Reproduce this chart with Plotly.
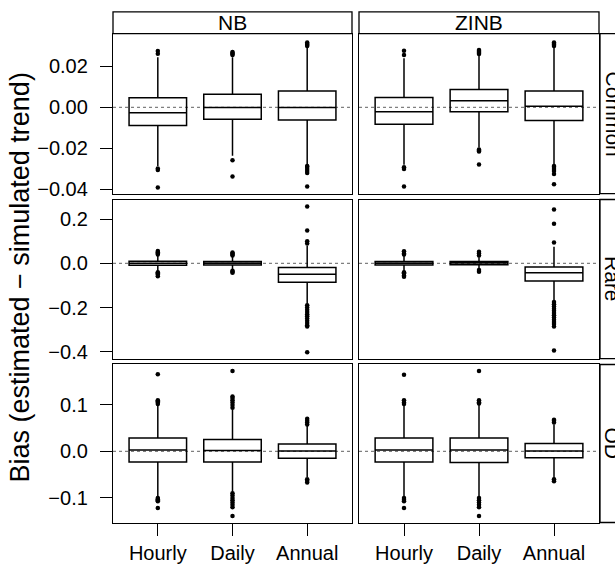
import plotly.graph_objects as go
from plotly.subplots import make_subplots

# Facets and categories
models = ["NB", "ZINB"]
groups = ["Common", "Rare", "OD"]
scales = ["Hourly", "Daily", "Annual"]

# Box statistics per group: one row per model (NB, ZINB), one value per scale
common_q1 = [[-0.0088, -0.0058, -0.0061], [-0.0082, -0.0021, -0.0064]]
common_med = [[-0.0026, 0.0000, 0.0000], [-0.0021, 0.0032, 0.0006]]
common_q3 = [[0.0047, 0.0064, 0.0080], [0.0048, 0.0087, 0.0080]]
common_lo = [[-0.0285, -0.0236, -0.0280], [-0.0280, -0.0195, -0.0278]]
common_hi = [[0.0245, 0.0245, 0.0290], [0.0240, 0.0255, 0.0290]]

rare_q1 = [[-0.009, -0.008, -0.086], [-0.008, -0.006, -0.080]]
rare_med = [[0.000, 0.001, -0.049], [0.000, 0.002, -0.043]]
rare_q3 = [[0.009, 0.008, -0.019], [0.008, 0.008, -0.016]]
rare_lo = [[-0.035, -0.030, -0.183], [-0.035, -0.025, -0.170]]
rare_hi = [[0.035, 0.030, 0.080], [0.035, 0.028, 0.075]]

od_q1 = [[-0.023, -0.023, -0.015], [-0.023, -0.024, -0.0135]]
od_med = [[0.003, 0.002, 0.001], [0.003, 0.003, 0.001]]
od_q3 = [[0.029, 0.0255, 0.016], [0.029, 0.029, 0.017]]
od_lo = [[-0.098, -0.087, -0.055], [-0.098, -0.098, -0.058]]
od_hi = [[0.100, 0.090, 0.055], [0.100, 0.100, 0.058]]

# Outlying values per group / model / scale
common_out = [
    [[0.0262, 0.0275, -0.0298, -0.0305, -0.0390],
     [0.0255, 0.0260, 0.0265, 0.0270, -0.0257, -0.0337],
     [0.0300, 0.0305, 0.0310, 0.0317, -0.0285, -0.0290, -0.0300, -0.0310, -0.0320, -0.0386]],
    [[0.0255, 0.0276, -0.0292, -0.0300, -0.0386],
     [0.0260, 0.0265, 0.0270, 0.0275, 0.0280, -0.0205, -0.0210, -0.0215, -0.0278],
     [0.0300, 0.0305, 0.0310, 0.0317, -0.0285, -0.0290, -0.0300, -0.0310, -0.0325, -0.0374]],
]
rare_out = [
    [[0.040, 0.045, 0.050, 0.056, -0.040, -0.045, -0.050, -0.058],
     [0.035, 0.040, 0.045, 0.049, -0.033, -0.038, -0.043],
     [0.090, 0.100, 0.149, 0.257, -0.190, -0.200, -0.210, -0.220, -0.230, -0.240,
      -0.250, -0.260, -0.270, -0.280, -0.286, -0.403]],
    [[0.040, 0.045, 0.055, -0.040, -0.045, -0.055, -0.061],
     [0.035, 0.045, 0.052, -0.030, -0.038],
     [0.094, 0.179, 0.244, -0.175, -0.185, -0.195, -0.205, -0.215, -0.225, -0.235,
      -0.245, -0.255, -0.265, -0.275, -0.286, -0.395]],
]
od_out = [
    [[0.102, 0.105, 0.108, 0.110, 0.166, -0.100, -0.103, -0.105, -0.107, -0.122],
     [0.094, 0.100, 0.105, 0.110, 0.115, 0.118, 0.173,
      -0.090, -0.095, -0.100, -0.105, -0.110, -0.115, -0.120, -0.139],
     [0.058, 0.062, 0.066, 0.070, -0.060, -0.063, -0.067]],
    [[0.102, 0.105, 0.110, 0.165, -0.100, -0.104, -0.107, -0.122],
     [0.103, 0.106, 0.110, 0.173, -0.100, -0.105, -0.110, -0.115, -0.120, -0.139],
     [0.062, 0.066, 0.068, -0.060, -0.064]],
]

# Axis tick labels per group
common_ticks = [-0.04, -0.02, 0.00, 0.02]
rare_ticks = [-0.4, -0.2, 0.0, 0.2]
od_ticks = [-0.1, 0.0, 0.1]

stats = {
    "Common": (common_q1, common_med, common_q3, common_lo, common_hi, common_out),
    "Rare": (rare_q1, rare_med, rare_q3, rare_lo, rare_hi, rare_out),
    "OD": (od_q1, od_med, od_q3, od_lo, od_hi, od_out),
}
ticks = {"Common": (common_ticks, ".2f"), "Rare": (rare_ticks, ".1f"), "OD": (od_ticks, ".1f")}
yranges = {"Common": [-0.042, 0.036], "Rare": [-0.431, 0.289], "OD": [-0.153, 0.187]}

W, H = 615, 571
col_px = [(113, 352), (359, 599)]
row_px = [(34, 196), (202, 363), (369, 529)]
FONT = "Liberation Sans, Arial, Helvetica, sans-serif"

fig = make_subplots(rows=3, cols=2)
xpos = [1, 2, 3]

for r, g in enumerate(groups):
    q1, med, q3, lo, hi, out = stats[g]
    for c, m in enumerate(models):
        fig.add_trace(go.Box(
            x=xpos, q1=q1[c], median=med[c], q3=q3[c],
            lowerfence=lo[c], upperfence=hi[c],
            width=0.77, whiskerwidth=0, boxpoints=False,
            fillcolor="rgba(0,0,0,0)", line=dict(color="black", width=1.5),
            showlegend=False, hoverinfo="skip"),
            row=r + 1, col=c + 1)
        ox, oy = [], []
        for i, vals in enumerate(out[c]):
            ox += [xpos[i]] * len(vals)
            oy += vals
        fig.add_trace(go.Scatter(
            x=ox, y=oy, mode="markers",
            marker=dict(color="black", size=4.5),
            showlegend=False, hoverinfo="skip"),
            row=r + 1, col=c + 1)

shapes = []
annotations = []
for r, g in enumerate(groups):
    tv, fmt = ticks[g]
    for c in range(2):
        idx = r * 2 + c + 1
        xa = "xaxis" if idx == 1 else f"xaxis{idx}"
        ya = "yaxis" if idx == 1 else f"yaxis{idx}"
        x0, x1 = col_px[c]
        y0, y1 = row_px[r]
        fig.layout[xa].update(
            domain=[x0 / W, x1 / W], range=[0.4, 3.6],
            showline=True, mirror=True, linecolor="black", linewidth=1.3,
            showgrid=False, zeroline=False,
            tickvals=xpos, ticktext=scales,
            ticks="outside" if r == 2 else "", ticklen=12, tickwidth=1.3,
            tickcolor="black", showticklabels=(r == 2),
            tickfont=dict(family=FONT, size=20, color="black"))
        fig.layout[ya].update(
            domain=[1 - y1 / H, 1 - y0 / H], range=yranges[g],
            showline=True, mirror=True, linecolor="black", linewidth=1.3,
            showgrid=False, zeroline=False,
            tickvals=tv, tickformat=fmt,
            ticks="outside" if c == 0 else "", ticklen=12, tickwidth=1.3,
            tickcolor="black", ticklabelstandoff=8,
            showticklabels=(c == 0),
            tickfont=dict(family=FONT, size=20, color="black"))
        # dotted reference line at zero bias
        xr = "x" if idx == 1 else f"x{idx}"
        yr = "y" if idx == 1 else f"y{idx}"
        shapes.append(dict(type="line", xref=f"{xr} domain", yref=yr,
                           x0=0, x1=1, y0=0, y1=0, layer="below",
                           line=dict(color="#808080", width=1.2, dash="dot")))

# Column strips
for c, m in enumerate(models):
    x0, x1 = col_px[c]
    shapes.append(dict(type="rect", xref="paper", yref="paper",
                       x0=x0 / W, x1=x1 / W, y0=1 - 34 / H, y1=1 - 12 / H,
                       fillcolor="white", line=dict(color="black", width=1.3)))
    annotations.append(dict(text=m, xref="paper", yref="paper",
                            x=(x0 + x1) / 2 / W, y=1 - 23 / H, showarrow=False,
                            xanchor="center", yanchor="middle",
                            font=dict(family=FONT, size=21, color="black")))

# Row strips (partly beyond the right edge of the page)
for r, g in enumerate(groups):
    y0, y1 = row_px[r]
    shapes.append(dict(type="rect", xref="paper", yref="paper",
                       x0=600 / W, x1=626 / W, y0=1 - y1 / H, y1=1 - y0 / H,
                       fillcolor="white", line=dict(color="black", width=1.3)))
    annotations.append(dict(text=g, xref="paper", yref="paper",
                            x=613 / W, y=1 - (y0 + y1) / 2 / H, showarrow=False,
                            textangle=90, xanchor="center", yanchor="middle",
                            font=dict(family=FONT, size=21, color="black")))

annotations.append(dict(text="Bias (estimated \u2212 simulated trend)",
                        xref="paper", yref="paper", x=20 / W, y=1 - 281 / H,
                        showarrow=False, textangle=-90,
                        xanchor="center", yanchor="middle",
                        font=dict(family=FONT, size=27, color="black")))

fig.update_layout(
    width=W, height=H, margin=dict(l=0, r=0, t=0, b=0),
    paper_bgcolor="white", plot_bgcolor="white",
    shapes=shapes, annotations=annotations, showlegend=False)

fig.write_html("out.html")
